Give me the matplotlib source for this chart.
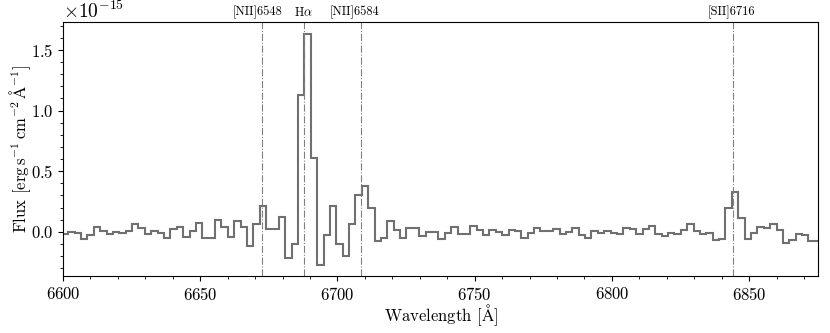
import numpy as np
import matplotlib
matplotlib.use("Agg")
import matplotlib.pyplot as plt
import matplotlib.transforms as mtransforms

# spectrum, in units of 1e-15 erg/s/cm2/A (one value per bin)
flux = [
    -0.02, 0.0, -0.01, -0.06, -0.03, 0.04, 0.01, -0.02, 0.0, -0.01,
    0.01, 0.06, 0.03, -0.02, 0.01, -0.01, -0.05, 0.02, 0.04, -0.04,
    0.01, 0.07, -0.05, -0.05, 0.10, 0.04, -0.04, 0.085, 0.04, -0.12,
    0.06, 0.21, 0.02, 0.02, 0.125, -0.215, -0.10, 1.125, 1.635, 0.607,
    -0.27, -0.03, 0.215, -0.10, -0.20, 0.06, 0.30, 0.38, 0.20, -0.075,
    -0.05, 0.09, 0.015, -0.055, 0.035, 0.033, -0.037, 0.002, 0.002, -0.058,
    -0.01, 0.04, -0.02, -0.02, 0.047, 0.013, -0.03, 0.016, 0.002, -0.025,
    0.016, 0.003, -0.05, -0.009, 0.035, 0.004, 0.01, 0.025, -0.016, -0.005,
    0.028, -0.03, -0.05, 0.005, -0.01, 0.003, -0.008, -0.022, 0.03, 0.025,
    -0.022, 0.02, 0.047, -0.016, -0.035, -0.008, -0.022, 0.016, 0.06, 0.005,
    -0.022, -0.008, -0.07, -0.057, 0.20, 0.325, 0.11, -0.06, -0.008, 0.038,
    0.033, 0.06, 0.011, -0.09, -0.07, -0.022, -0.03, -0.077, -0.077,
]
flux = np.array(flux) * 1e-15

# wavelength grid (bin edges)
lam_start = 6599.6
lam_step = 2.3247
edges = lam_start + lam_step * np.arange(len(flux) + 1)

# emission lines
z = 0.01903
line_rest = [6548.05, 6562.8, 6583.45, 6716.44]
line_names = ["[NII]6548", r"H$\alpha$", "[NII]6584", "[SII]6716"]
label_shift = [-2.0, 0.0, -2.4, -0.9]

plt.rcParams["font.family"] = "serif"
plt.rcParams["font.serif"] = ["cmr10"]
plt.rcParams["mathtext.fontset"] = "cm"
plt.rcParams["axes.formatter.use_mathtext"] = True
plt.rcParams["axes.unicode_minus"] = True
plt.rcParams["font.size"] = 12

fig = plt.figure(figsize=(8.3, 3.33), dpi=100)
ax = fig.add_axes([0.0759, 0.171, 0.9094, 0.763])

ax.stairs(flux, edges, baseline=None, color="#707070", lw=1.5)

trans = mtransforms.blended_transform_factory(ax.transData, ax.transAxes)
for rest, name, dx in zip(line_rest, line_names, label_shift):
    obs = rest * (1 + z)
    ax.axvline(obs, color="#808080", ls="-.", lw=0.8)
    ax.text(obs + dx, 1.01, name, transform=trans, ha="center", va="bottom",
            fontsize=9)

ax.set_xlim(6600, 6875)
ax.minorticks_on()
ax.set_xlabel(r"Wavelength [$\mathrm{\AA}$]", labelpad=-0.5)
ax.set_ylabel(r"Flux [$\mathrm{erg\,s^{-1}\,cm^{-2}\,\AA^{-1}}$]", labelpad=-1.5)
ax.yaxis.get_offset_text().set_fontsize(14)

fig.savefig("out.png", dpi=100)
